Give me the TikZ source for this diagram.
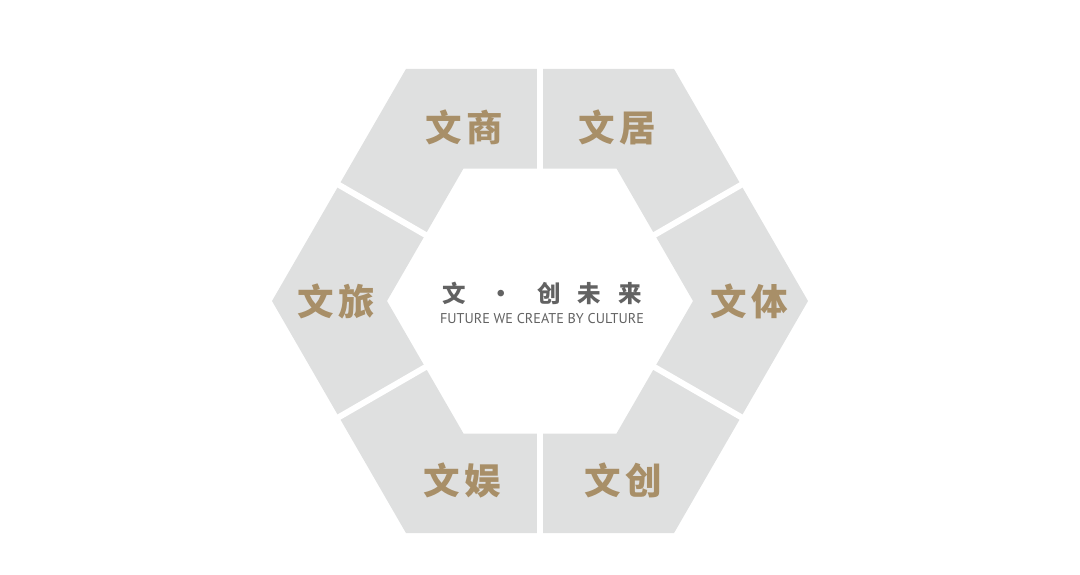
\documentclass[tikz,border=0pt]{standalone}
\usepackage{fontspec}
\usetikzlibrary{positioning}
\newfontfamily\cjk{Noto Sans CJK SC}
\newfontfamily\latin{PT Sans}
\definecolor{ringgray}{RGB}{223,224,224}
\definecolor{gold}{RGB}{168,143,104}
\definecolor{slate}{RGB}{98,98,98}

\begin{document}
\begin{tikzpicture}[x=1pt,y=-1pt,every node/.style={inner sep=0pt},
  part/.style={font=\cjk\bfseries\fontsize{36.5}{36.5}\selectfont,text=gold},
  motto/.style={font=\cjk\bfseries\fontsize{23.5}{23.5}\selectfont,text=slate},
  tagline/.style={font=\latin\fontsize{14.2}{14.2}\selectfont,text=slate},
  cut/.style={white,line width=6pt}]
  \useasboundingbox (0,0) rectangle (1080,574);
  % hexagonal ring, cut at the edge midpoints
  \begin{scope}[shift={(540,301)}]
    \fill[ringgray,even odd rule]
      (0:268) -- (60:268) -- (120:268) -- (180:268) -- (240:268) -- (300:268) -- cycle
      (0:153) -- (60:153) -- (120:153) -- (180:153) -- (240:153) -- (300:153) -- cycle;
    \foreach \a in {30,90,...,330}
      \draw[cut] (\a:120) -- (\a:245);
  \end{scope}
  \node[part] (shang) at (464,127) {文\hspace{5pt}商};
  \node[part] (ju) at (617,127) {文\hspace{5pt}居};
  \node[part] (ti) at (749,301) {文\hspace{5pt}体};
  \node[part] (chuang) at (623,480) {文\hspace{5pt}创};
  \node[part] (yu) at (462,480) {文\hspace{5pt}娱};
  \node[part] (lv) at (336,301) {文\hspace{5pt}旅};
  \node[motto] (future) at (542,293) {文\hspace{24pt}·\hspace{24pt}创\hspace{17pt}未\hspace{17pt}来};
  \node[tagline,below=9pt of future] (future en) {FUTURE WE CREATE BY CULTURE};
\end{tikzpicture}
\end{document}
